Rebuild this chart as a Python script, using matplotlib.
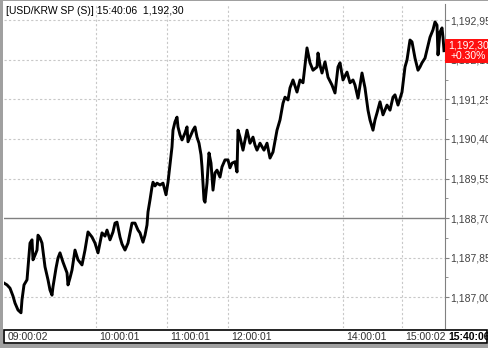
import matplotlib
matplotlib.use("Agg")
import matplotlib.pyplot as plt
from matplotlib.patches import Rectangle
from matplotlib.transforms import blended_transform_factory

plt.rcParams['font.family'] = ['Liberation Sans', 'DejaVu Sans']

# tick sequence position (non-uniform in clock time) and last price
seq = [0, 3, 6, 9, 11, 14, 17, 18, 20, 23,
       26, 28, 29, 31, 33, 34, 36, 38, 41, 44,
       46, 48, 49, 52, 54, 56, 59, 63, 64, 66,
       68, 71, 74, 78, 81, 84, 88, 91, 94, 98,
       101, 103, 106, 109, 111, 113, 116, 118, 121, 124,
       128, 131, 134, 136, 139, 141, 143, 144, 146, 148,
       149, 151, 153, 156, 159, 162, 164, 166, 168, 169,
       171, 173, 174, 176, 178, 181, 183, 184, 186, 189,
       191, 193, 195, 197, 198, 199, 200, 201, 203, 205,
       207, 209, 211, 213, 216, 218, 221, 224, 226, 228,
       231, 233, 234, 236, 239, 241, 243, 246, 249, 251,
       253, 256, 260, 263, 266, 269, 273, 276, 279, 281,
       284, 286, 289, 293, 296, 299, 301, 303, 306, 309,
       313, 314, 316, 318, 321, 324, 328, 331, 334, 336,
       339, 343, 346, 349, 351, 354, 358, 361, 364, 366,
       368, 369, 371, 373, 376, 379, 383, 386, 389, 391,
       394, 398, 401, 403, 406, 408, 411, 414, 416, 418,
       421, 423, 426, 429, 431, 433, 434, 436, 438, 439,
       440]

price = [1187.30, 1187.26, 1187.19, 1187.02, 1186.87, 1186.72, 1186.66, 1186.94, 1187.26, 1187.37,
         1188.16, 1188.23, 1187.80, 1187.90, 1188.01, 1188.33, 1188.27, 1188.16, 1187.65, 1187.37,
         1187.15, 1187.04, 1187.22, 1187.62, 1187.84, 1187.95, 1187.75, 1187.52, 1187.26, 1187.41,
         1187.58, 1188.01, 1187.80, 1187.69, 1188.01, 1188.40, 1188.29, 1188.16, 1187.95, 1188.38,
         1188.31, 1188.44, 1188.23, 1188.40, 1188.59, 1188.61, 1188.29, 1188.14, 1188.01, 1188.16,
         1188.59, 1188.59, 1188.44, 1188.38, 1188.18, 1188.33, 1188.55, 1188.83, 1189.09, 1189.37,
         1189.47, 1189.39, 1189.45, 1189.41, 1189.45, 1189.20, 1189.47, 1189.84, 1190.23, 1190.59,
         1190.77, 1190.87, 1190.66, 1190.49, 1190.38, 1190.53, 1190.66, 1190.34, 1190.44, 1190.59,
         1190.66, 1190.44, 1190.31, 1190.06, 1189.80, 1189.45, 1189.09, 1189.04, 1189.45, 1190.10,
         1189.88, 1189.30, 1189.67, 1189.73, 1189.58, 1189.80, 1189.95, 1189.95, 1189.78, 1189.88,
         1189.91, 1189.69, 1190.59, 1190.44, 1190.16, 1190.38, 1190.59, 1190.31, 1190.44, 1190.27,
         1190.16, 1190.31, 1190.16, 1190.31, 1189.99, 1190.12, 1190.59, 1190.81, 1191.17, 1191.30,
         1191.24, 1191.50, 1191.67, 1191.41, 1191.67, 1191.61, 1191.99, 1192.36, 1192.04, 1191.88,
         1191.95, 1192.25, 1191.99, 1191.82, 1192.06, 1191.73, 1191.56, 1191.39, 1191.95, 1192.04,
         1191.67, 1191.84, 1191.61, 1191.67, 1191.56, 1191.28, 1191.82, 1191.50, 1191.02, 1190.81,
         1190.66, 1190.59, 1190.81, 1190.96, 1191.20, 1190.92, 1191.13, 1191.02, 1191.30, 1191.35,
         1191.13, 1191.41, 1191.95, 1192.10, 1192.53, 1192.49, 1192.14, 1191.88, 1191.95, 1192.04,
         1192.14, 1192.32, 1192.59, 1192.75, 1192.92, 1192.85, 1192.21, 1192.70, 1192.79, 1192.59,
         1192.30]

time_pos = [1, 92, 163, 224, 339, 398]
time_labels = ['09:00:02', '10:00:01', '11:00:01', '12:00:01', '14:00:01', '15:00:02']
last_time = '15:40:06'
prev_close = 1188.70
price_ticks = [1187.00, 1187.85, 1188.70, 1189.55, 1190.40, 1191.25, 1192.10, 1192.95]
change_pct = '+0.30%'
title = '[USD/KRW SP (S)] 15:40:06  1,192,30'


def fmt(v):
    return f"{v:,.2f}".replace('.', ',')


W, H = 489, 348
fig = plt.figure(figsize=(W / 100, H / 100), dpi=100)
fig.patch.set_facecolor('white')


def fx(x):
    return x / W


def fy(y):
    return 1 - y / H


ax = fig.add_axes([fx(4), fy(328), fx(445) - fx(4), fy(4) - fy(328)])
ax.set_xlim(0, 441)
ax.set_ylim(1186.333, 1193.305)

# grid
for v in price_ticks:
    if v == prev_close:
        ax.axhline(v, color='#808080', lw=1.0, zorder=1)
    else:
        ax.axhline(v, color='#c8c8c8', lw=0.8, ls=(0, (2, 2)), zorder=1)
for p in time_pos[1:]:
    ax.axvline(p, color='#c8c8c8', lw=0.8, ls=(0, (2, 2)), zorder=1)

ax.plot(seq, price, color='black', lw=2.1, zorder=3)

for s in ['top', 'left', 'bottom']:
    ax.spines[s].set_visible(False)
ax.spines['right'].set_color('#808080')
ax.set_xticks([])
ax.yaxis.tick_right()
ax.set_yticks(price_ticks)
ax.set_yticklabels([fmt(v) for v in price_ticks])
ax.set_yticks([(a + b) / 2 for a, b in zip(price_ticks[:-1], price_ticks[1:])], minor=True)
ax.tick_params(axis='y', which='major', length=3, color='#808080', pad=1,
               labelsize=7.5, labelcolor='#404040')
ax.tick_params(axis='y', which='minor', length=2, color='#808080')

# last price box
tr = blended_transform_factory(ax.transAxes, ax.transData)
box_h = 0.516
ax.add_patch(Rectangle((1.0, price[-1] - box_h / 2), 0.11, box_h, transform=tr,
                       facecolor='#ff1010', edgecolor='none', clip_on=False, zorder=5))
ax.text(1.008, price[-1] + 0.12, fmt(price[-1]), transform=tr, color='white',
        fontsize=7.5, ha='left', va='center', zorder=6, clip_on=False)
ax.text(1.012, price[-1] - 0.12, change_pct, transform=tr, color='white',
        fontsize=7.5, ha='left', va='center', zorder=6, clip_on=False)

# time band
tb = blended_transform_factory(ax.transData, fig.transFigure)
for p, lab in zip(time_pos, time_labels):
    ax.text(p + 3, fy(337), lab, transform=tb, fontsize=7.5, color='#303030',
            ha='left', va='center', clip_on=False)
fig.text(fx(448), fy(337), last_time, fontsize=7.5, fontweight='bold',
         ha='left', va='center')
fig.patches.append(Rectangle((fx(4), fy(343)), fx(487) - fx(4), fy(330) - fy(343),
                             transform=fig.transFigure, fill=False,
                             edgecolor='black', lw=1.2))

# window frame
fig.patches.append(Rectangle((0, 0), fx(3), 1, transform=fig.transFigure,
                             facecolor='#a0a0a0', edgecolor='none'))
fig.patches.append(Rectangle((0, 0), 1, fy(344), transform=fig.transFigure,
                             facecolor='#a0a0a0', edgecolor='none'))
fig.patches.append(Rectangle((0, fy(1)), 1, 1 - fy(1), transform=fig.transFigure,
                             facecolor='#a0a0a0', edgecolor='none'))

fig.text(fx(6), fy(11), title, fontsize=7.5, ha='left', va='center')

fig.savefig('out.png', dpi=100)
